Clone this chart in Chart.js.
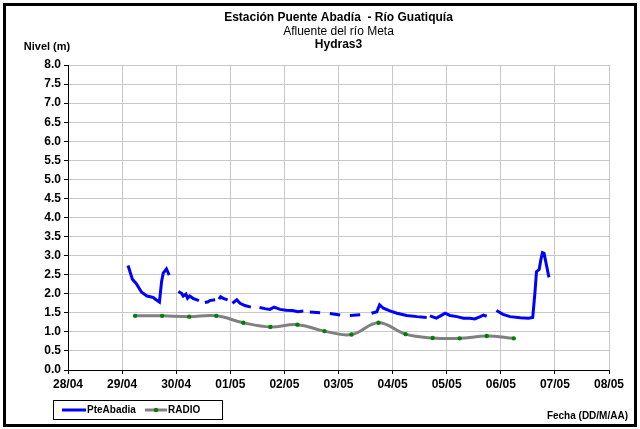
<!DOCTYPE html>
<html>
<head>
<meta charset="utf-8">
<style>
  html, body { margin: 0; padding: 0; background: #fff; }
  #wrap { width: 640px; height: 429px; }
</style>
</head>
<body>
<div id="wrap"><canvas id="chart" width="640" height="429"></canvas></div>
<script src="https://cdn.jsdelivr.net/npm/chart.js"></script>
<script>
// x = days since 28/04 00:00, null level = gap in the record
const dayLabels = ['28/04', '29/04', '30/04', '01/05', '02/05', '03/05', '04/05', '05/05', '06/05', '07/05', '08/05'];

const pteDays = [
  1.11, 1.19, 1.26, 1.36, 1.46, 1.52, 1.58, 1.61, 1.69, 1.73, 1.76, 1.82, 1.87, 1.95,
  2.04, 2.10, 2.13, 2.18, 2.21, 2.25, 2.31, 2.42, 2.48,
  2.53, 2.59, 2.62, 2.72, 2.76,
  2.79, 2.82, 2.87, 2.95, 3.00,
  3.04, 3.12, 3.18, 3.27, 3.38, 3.46,
  3.54, 3.64, 3.73, 3.81, 3.92, 4.03, 4.15, 4.25, 4.35, 4.41,
  4.47, 4.66, 4.75,
  4.84, 5.03, 5.12,
  5.21, 5.40, 5.50,
  5.61, 5.71, 5.76, 5.83, 5.95, 6.08, 6.26, 6.45, 6.63, 6.66,
  6.69, 6.81, 6.91, 6.97, 7.06, 7.19, 7.31, 7.43, 7.52, 7.62, 7.68, 7.74, 7.83,
  7.92, 8.04, 8.17, 8.36, 8.51, 8.59, 8.63, 8.66, 8.71, 8.74, 8.77, 8.80, 8.85, 8.89
];
const pteLevels = [
  2.74, 2.38, 2.27, 2.04, 1.94, 1.92, 1.90, 1.86, 1.78, 2.32, 2.54, 2.65, 2.49, null,
  2.06, 2.01, 1.94, 1.99, 1.88, 1.94, 1.88, 1.82, null,
  1.77, 1.79, 1.82, 1.84, null,
  1.86, 1.92, 1.88, 1.84, null,
  1.75, 1.84, 1.75, 1.69, 1.65, null,
  1.64, 1.61, 1.59, 1.65, 1.59, 1.57, 1.56, 1.53, 1.55, null,
  1.52, 1.50, null,
  1.48, 1.44, null,
  1.43, 1.45, null,
  1.49, 1.53, 1.71, 1.62, 1.55, 1.49, 1.43, 1.40, 1.38, null,
  1.42, 1.36, 1.44, 1.49, 1.43, 1.40, 1.36, 1.36, 1.34, 1.40, 1.44, 1.41, null,
  1.56, 1.46, 1.40, 1.37, 1.36, 1.38, 2.01, 2.58, 2.64, 2.89, 3.08, 3.06, 2.71, 2.43
];

const radioDays = [1.24, 1.74, 2.24, 2.74, 3.24, 3.74, 4.24, 4.74, 5.24, 5.74, 6.24, 6.74, 7.24, 7.74, 8.24];
const radioLevels = [1.42, 1.42, 1.40, 1.42, 1.24, 1.13, 1.19, 1.02, 0.93, 1.24, 0.94, 0.84, 0.83, 0.89, 0.83];

const FONT = "'Liberation Sans', Arial, sans-serif";

const decor = {
  id: 'decor',
  beforeDraw(chart) {
    const c = chart.ctx;
    c.save();
    c.fillStyle = '#fff';
    c.fillRect(0, 0, chart.width, chart.height);
    c.restore();
  },
  afterDraw(chart) {
    const c = chart.ctx;
    const a = chart.chartArea;
    const mid = (a.left + a.right) / 2;
    c.save();
    c.fillStyle = '#000';
    c.textAlign = 'center';
    c.textBaseline = 'middle';
    c.font = 'bold 12px ' + FONT;
    c.fillText('Estación Puente Abadía  - Río Guatiquía', mid, 18);
    c.font = '12px ' + FONT;
    c.fillText('Afluente del río Meta', mid, 32);
    c.font = 'bold 12px ' + FONT;
    c.fillText('Hydras3', mid, 45);
    c.font = 'bold 11px ' + FONT;
    c.fillText('Nivel (m)', 47, 47);
    c.textAlign = 'right';
    c.font = 'bold 10px ' + FONT;
    c.fillText('Fecha (DD/M/AA)', 628, 416);

    // legend
    c.strokeStyle = '#000';
    c.lineWidth = 1;
    c.strokeRect(53.5, 400.5, 169, 19);
    c.lineWidth = 3;
    c.strokeStyle = '#0000ff';
    c.beginPath(); c.moveTo(62, 410); c.lineTo(86, 410); c.stroke();
    c.strokeStyle = '#808080';
    c.beginPath(); c.moveTo(145, 410); c.lineTo(167, 410); c.stroke();
    c.fillStyle = '#008000';
    c.beginPath(); c.arc(156, 410, 2.2, 0, Math.PI * 2); c.fill();
    c.fillStyle = '#000';
    c.textAlign = 'left';
    c.font = 'bold 10px ' + FONT;
    c.fillText('PteAbadia', 87, 410);
    c.fillText('RADIO', 168, 410);

    // outer frame
    c.lineWidth = 3;
    c.strokeStyle = '#000';
    c.strokeRect(4.5, 4.5, 631, 421);
    c.restore();
  }
};

new Chart(document.getElementById('chart').getContext('2d'), {
  type: 'line',
  data: {
    datasets: [{
      label: 'PteAbadia',
      data: pteDays.map((d, i) => ({ x: d, y: pteLevels[i] })),
      borderColor: '#0000ff',
      borderWidth: 3,
      pointRadius: 0,
      tension: 0,
      spanGaps: false
    }, {
      label: 'RADIO',
      data: radioDays.map((d, i) => ({ x: d, y: radioLevels[i] })),
      borderColor: '#808080',
      borderWidth: 3,
      pointRadius: 2.2,
      pointBackgroundColor: '#008000',
      pointBorderWidth: 0,
      tension: 0.4
    }]
  },
  options: {
    responsive: false,
    animation: false,
    layout: { padding: { left: 10, right: 31, top: 65, bottom: 39 } },
    plugins: { legend: { display: false }, title: { display: false }, tooltip: { enabled: false } },
    scales: {
      x: {
        type: 'linear',
        min: 0,
        max: 10,
        afterFit(s) { s.height = 20; },
        ticks: {
          stepSize: 1,
          autoSkip: false,
          maxRotation: 0,
          padding: 3,
          color: '#000',
          font: { family: FONT, size: 12, weight: 'bold' },
          callback: v => dayLabels[v]
        },
        grid: { color: '#c8c8c8', tickColor: '#000', tickLength: 4 },
        border: { color: '#000', width: 1 }
      },
      y: {
        min: 0,
        max: 8,
        afterFit(s) { s.width = 58; },
        ticks: {
          stepSize: 0.5,
          padding: 3,
          color: '#000',
          font: { family: FONT, size: 12, weight: 'bold' },
          callback: v => v.toFixed(1)
        },
        grid: { color: '#c8c8c8', tickColor: '#000', tickLength: 4 },
        border: { color: '#000', width: 1 }
      }
    }
  },
  plugins: [decor]
});
</script>
</body>
</html>
